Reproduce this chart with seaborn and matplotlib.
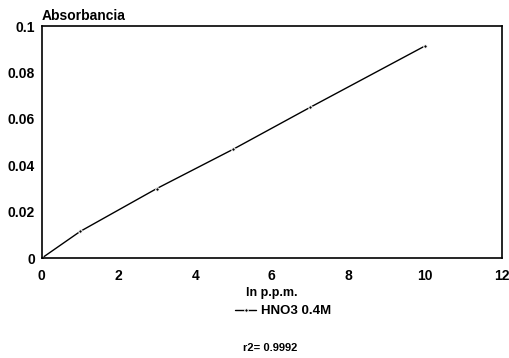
import matplotlib
matplotlib.use("Agg")
import matplotlib.pyplot as plt
import seaborn as sns
import pandas as pd

conc = [0, 1, 3, 5, 7, 10]
absorb = [0.0, 0.0115, 0.030, 0.047, 0.065, 0.0915]
series_name = "HNO3 0.4M"
x_ticks = [0, 2, 4, 6, 8, 10, 12]
y_ticks = [0, 0.02, 0.04, 0.06, 0.08, 0.1]
y_tick_labels = ["0", "0.02", "0.04", "0.06", "0.08", "0.1"]

sns.set_style("white")
plt.rcParams['font.family'] = ['Liberation Sans', 'DejaVu Sans']
plt.rcParams['font.weight'] = 'bold'
plt.rcParams['text.color'] = 'black'
plt.rcParams['axes.labelcolor'] = 'black'
plt.rcParams['xtick.color'] = 'black'
plt.rcParams['ytick.color'] = 'black'

df = pd.DataFrame({"x": conc, "y": absorb, "s": series_name})

fig = plt.figure(figsize=(5.10, 3.58), dpi=100)
ax = fig.add_axes([0.082, 0.279, 0.902, 0.648])
sns.lineplot(data=df, x="x", y="y", hue="s", palette=["black"], marker="o",
             markersize=2.5, linewidth=1.0, ax=ax, legend=True)

ax.set_xlim(0, 12)
ax.set_ylim(0, 0.1)
ax.set_xticks(x_ticks)
ax.set_xticklabels([str(t) for t in x_ticks], fontsize=10, fontweight='bold')
ax.set_yticks(y_ticks)
ax.set_yticklabels(y_tick_labels, fontsize=10, fontweight='bold')
ax.tick_params(axis='x', direction='in', length=4, width=1, colors='black', pad=8)
ax.tick_params(axis='y', direction='in', length=4, width=1, colors='black', pad=5)
for s in ax.spines.values():
    s.set_color('black')
    s.set_linewidth(1.2)
ax.set_xlabel("ln p.p.m.", fontsize=9, fontweight='bold', labelpad=3, color='black')
ax.set_ylabel("")
ax.text(0.0, 1.015, "Absorbancia", transform=ax.transAxes, fontsize=10,
        fontweight='bold', ha='left', va='bottom', color='black')

leg = ax.legend(loc='center', bbox_to_anchor=(0.525, -0.228), frameon=False,
                handlelength=1.6, handletextpad=0.4,
                prop={'weight': 'bold', 'size': 9.5})
for t in leg.get_texts():
    t.set_color('black')
fig.text(0.53, 0.015, "r2= 0.9992", fontsize=8, fontweight='bold', ha='center',
         va='bottom', color='black')

fig.savefig("out.png", dpi=100)
